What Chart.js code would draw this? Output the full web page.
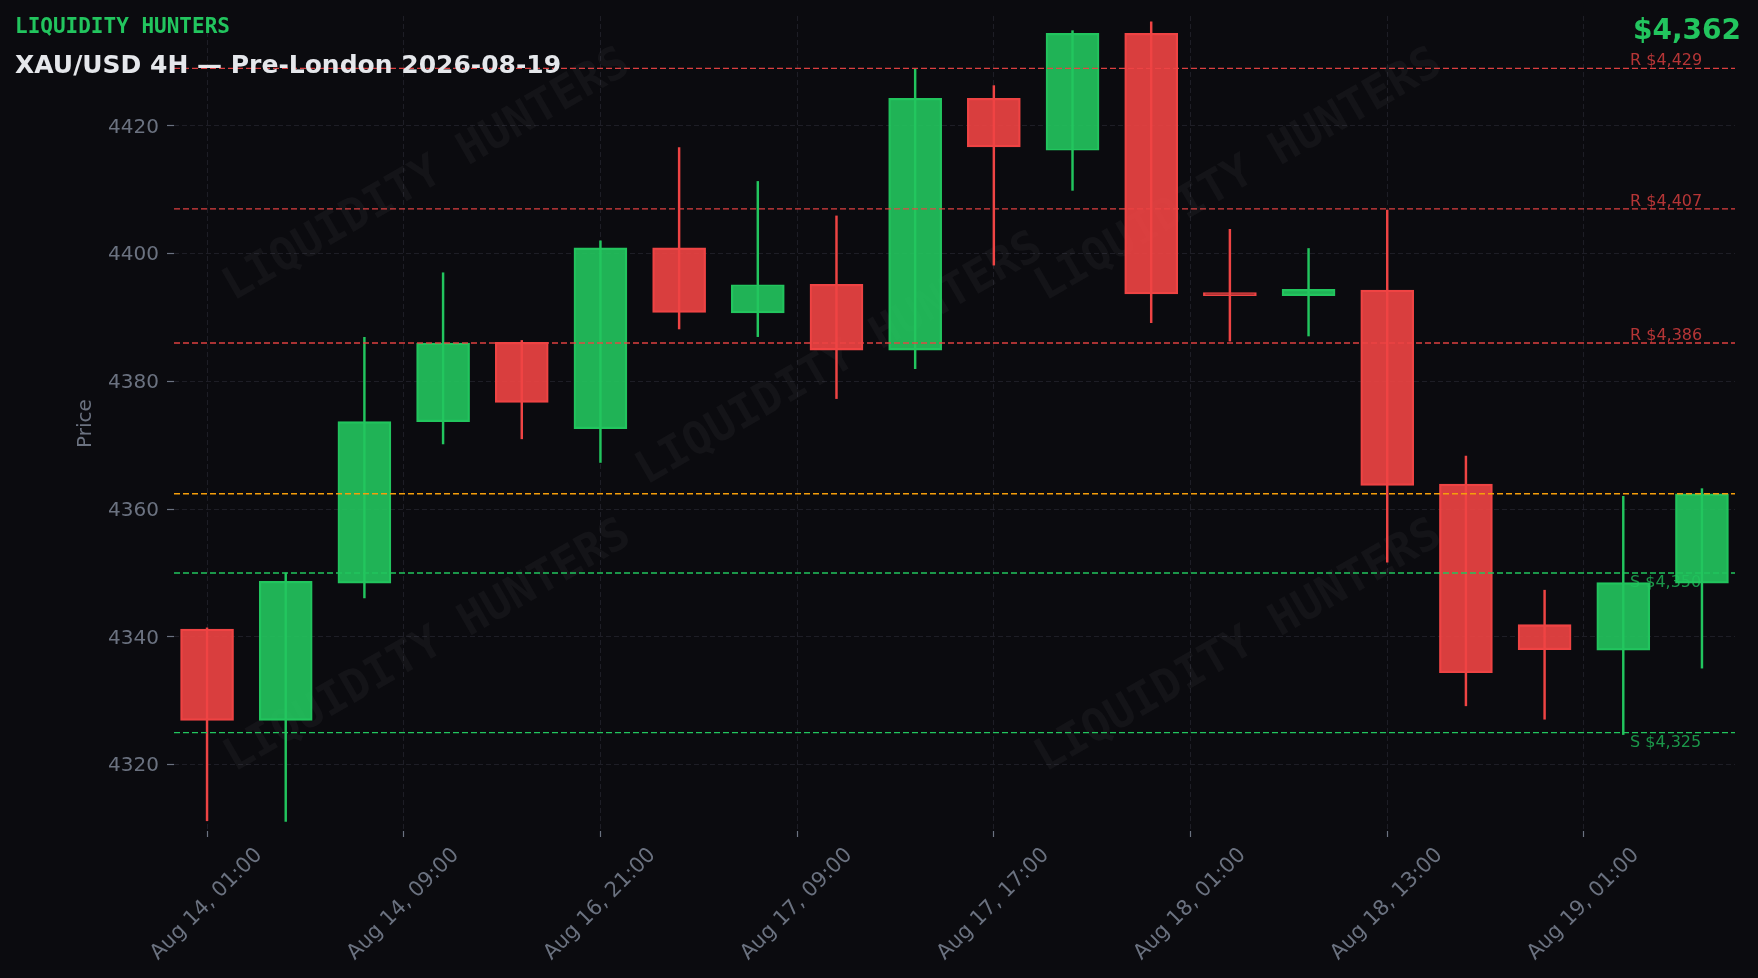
<!DOCTYPE html>
<html>
<head>
<meta charset="utf-8">
<script src="https://cdn.jsdelivr.net/npm/chart.js@4.4.1/dist/chart.umd.min.js"></script>
<style>
  html, body { margin: 0; padding: 0; background: #0b0b0f; }
  #wrap { width: 1758px; height: 978px; position: relative; }
</style>
</head>
<body>
<div id="wrap"><canvas id="chart"></canvas></div>
<script>
const opens  = [4341.2, 4326.9, 4348.4, 4373.7, 4386.1, 4372.6, 4400.9, 4390.7, 4395.2, 4384.9,
                4424.3, 4416.2, 4434.5, 4393.9, 4393.4, 4394.3, 4363.9, 4341.9, 4337.9, 4348.4];
const highs  = [4341.4, 4350.0, 4386.9, 4397.0, 4386.4, 4402.0, 4416.6, 4411.3, 4405.9, 4428.9,
                4426.3, 4434.9, 4436.3, 4403.8, 4400.8, 4406.8, 4368.3, 4347.3, 4362.0, 4363.2];
const lows   = [4311.2, 4311.1, 4346.1, 4370.2, 4371.0, 4367.3, 4388.2, 4387.0, 4377.3, 4382.0,
                4398.2, 4409.9, 4389.2, 4386.3, 4387.1, 4351.7, 4329.2, 4327.1, 4324.7, 4335.1];
const closes = [4326.9, 4348.7, 4373.7, 4386.0, 4376.7, 4400.9, 4390.8, 4395.1, 4384.9, 4424.3,
                4416.7, 4434.5, 4393.7, 4393.4, 4394.4, 4363.7, 4334.4, 4338.0, 4348.5, 4362.4];

const tickPos    = [0, 2.5, 5, 7.5, 10, 12.5, 15, 17.5];
const tickLabels = ['Aug 14, 01:00', 'Aug 14, 09:00', 'Aug 16, 21:00', 'Aug 17, 09:00',
                    'Aug 17, 17:00', 'Aug 18, 01:00', 'Aug 18, 13:00', 'Aug 19, 01:00'];
const yTicks = [4320, 4340, 4360, 4380, 4400, 4420];

const resistance = [4429, 4407, 4386];
const support = [4350, 4325];
const current = closes[closes.length - 1];

const title = 'XAU/USD 4H \u2014 Pre-London 2026-08-19';
const brand = 'LIQUIDITY HUNTERS';

const X_MIN = -0.42, X_MAX = 19.42;
const Y_MIN = 4309.6, Y_MAX = 4437.2;

const GREEN = '#22c55e', RED = '#ef4444', ORANGE = '#f59e0b';
const GRAY = '#6b7280';
const GRID = '#1e1e26';

const idx = opens.map((_, i) => i);
const up = i => closes[i] >= opens[i];
const fmt = v => '$' + Math.round(v).toLocaleString('en-US');

function levelLine(v, color) {
  return {
    type: 'line',
    data: [{x: X_MIN, y: v}, {x: X_MAX, y: v}],
    borderColor: color,
    borderWidth: 1.4,
    borderDash: [6, 3],
    pointRadius: 0,
    order: 0
  };
}

// no label padding: keep the plot box where it is in the picture
const noPad = s => { s.paddingTop = 0; s.paddingBottom = 0; s.paddingLeft = 0; s.paddingRight = 0; };

const watermark = {
  id: 'watermark',
  beforeDatasetsDraw(chart) {
    const {ctx, chartArea: a} = chart;
    const spots = [[427, 176], [1239, 176], [840, 360], [428, 647], [1239, 647]];
    ctx.save();
    ctx.beginPath();
    ctx.rect(a.left, a.top, a.right - a.left, a.bottom - a.top);
    ctx.clip();
    ctx.font = 'bold 45px "DejaVu Sans Mono"';
    ctx.fillStyle = 'rgba(255,255,255,0.04)';
    ctx.textAlign = 'center';
    ctx.textBaseline = 'middle';
    spots.forEach(([x, y]) => {
      ctx.save();
      ctx.translate(x, y);
      ctx.rotate(-Math.PI / 6);
      ctx.fillText(brand, 0, 0);
      ctx.restore();
    });
    ctx.restore();
  }
};

const levelLabels = {
  id: 'levelLabels',
  afterDatasetsDraw(chart) {
    const {ctx, chartArea: a} = chart;
    const y = chart.scales.y;
    const lx = a.right - 105;
    ctx.save();
    ctx.font = '16px "DejaVu Sans"';
    ctx.textAlign = 'left';
    ctx.textBaseline = 'alphabetic';
    ctx.fillStyle = 'rgba(239,68,68,0.75)';
    resistance.forEach(v => ctx.fillText('R ' + fmt(v), lx, y.getPixelForValue(v) - 3));
    ctx.fillStyle = 'rgba(34,197,94,0.75)';
    support.forEach(v => ctx.fillText('S ' + fmt(v), lx, y.getPixelForValue(v) + 14));
    ctx.restore();
  },
  afterDraw(chart) {
    const {ctx} = chart;
    ctx.save();
    ctx.textBaseline = 'alphabetic';
    ctx.textAlign = 'left';
    ctx.font = 'bold 21px "DejaVu Sans Mono"';
    ctx.fillStyle = GREEN;
    ctx.fillText(brand, 15, 33);
    ctx.font = 'bold 25px "DejaVu Sans"';
    ctx.fillStyle = '#e5e7eb';
    ctx.fillText(title, 15, 73);
    ctx.font = 'bold 28px "DejaVu Sans"';
    ctx.fillStyle = GREEN;
    ctx.textAlign = 'right';
    ctx.fillText(fmt(current), 1741, 39);
    ctx.restore();
  }
};

new Chart(document.getElementById('chart'), {
  type: 'bar',
  data: {
    datasets: [
      levelLine(resistance[0], 'rgba(239,68,68,0.92)'),
      levelLine(resistance[1], 'rgba(239,68,68,0.92)'),
      levelLine(resistance[2], 'rgba(239,68,68,0.92)'),
      levelLine(current, ORANGE),
      levelLine(support[0], GREEN),
      levelLine(support[1], GREEN),
      {
        label: 'body',
        data: idx.map(i => ({x: i, y: [opens[i], closes[i]]})),
        backgroundColor: idx.map(i => up(i) ? 'rgba(34,197,94,0.9)' : 'rgba(239,68,68,0.9)'),
        borderColor: idx.map(i => up(i) ? GREEN : RED),
        borderWidth: 1.6,
        borderSkipped: false,
        barThickness: 53,
        grouped: false,
        order: 1
      },
      {
        label: 'wick',
        data: idx.map(i => ({x: i, y: [lows[i], highs[i]]})),
        backgroundColor: idx.map(i => up(i) ? GREEN : RED),
        borderWidth: 0,
        barThickness: 1.8,
        grouped: false,
        order: 2
      }
    ]
  },
  options: {
    responsive: true,
    maintainAspectRatio: false,
    animation: false,
    devicePixelRatio: 1,
    layout: { padding: { top: 16, right: 23, left: 0, bottom: 0 } },
    plugins: { legend: { display: false }, tooltip: { enabled: false } },
    scales: {
      x: {
        type: 'linear',
        min: X_MIN,
        max: X_MAX,
        offset: false,
        afterBuildTicks: s => { s.ticks = tickPos.map(v => ({value: v})); },
        afterFit: s => { s.height = 147; noPad(s); },
        grid: {
          offset: false,
          color: GRID,
          lineWidth: 1,
          tickLength: 6,
          tickColor: GRAY,
          tickWidth: 1.2,
          tickBorderDash: []
        },
        border: { display: false, dash: [5, 3] },
        ticks: {
          autoSkip: false,
          minRotation: 45,
          maxRotation: 45,
          labelOffset: 52,
          padding: 6,
          color: GRAY,
          font: { family: 'DejaVu Sans', size: 21 },
          callback: (v, i) => tickLabels[i]
        }
      },
      y: {
        min: Y_MIN,
        max: Y_MAX,
        afterBuildTicks: s => { s.ticks = yTicks.map(v => ({value: v})); },
        afterFit: s => { s.width = 174; noPad(s); },
        grid: {
          color: GRID,
          lineWidth: 1,
          tickLength: 7,
          tickColor: GRAY,
          tickWidth: 1.2,
          tickBorderDash: []
        },
        border: { display: false, dash: [5, 3] },
        ticks: {
          padding: 8,
          labelOffset: 1.5,
          color: GRAY,
          font: { family: 'DejaVu Sans', size: 20 },
          callback: v => String(v)
        },
        title: {
          display: true,
          text: 'Price',
          color: GRAY,
          font: { family: 'DejaVu Sans', size: 20 },
          padding: { top: 74, bottom: 0 }
        }
      }
    }
  },
  plugins: [watermark, levelLabels]
});
</script>
</body>
</html>
